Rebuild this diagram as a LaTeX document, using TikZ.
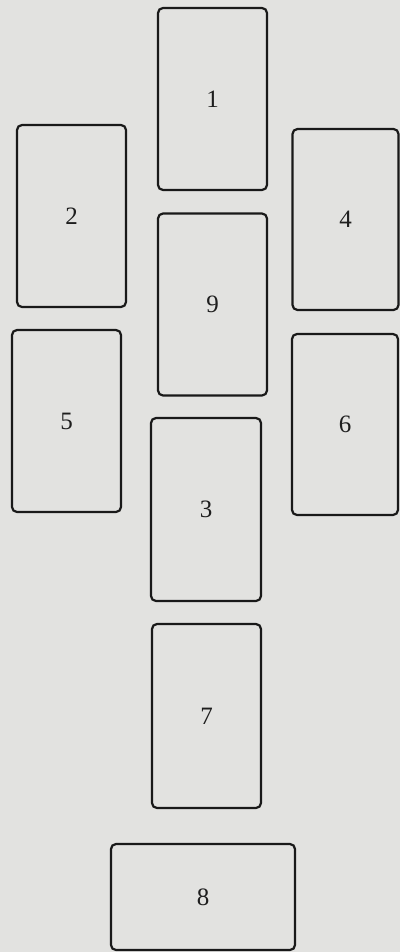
\documentclass[tikz,border=0pt]{standalone}
\usepackage{fontspec}
\setmainfont{Liberation Serif}
\usepackage{xcolor}
\usepackage{tikz}
\usetikzlibrary{positioning, backgrounds}
\definecolor{cdpaper}{RGB}{226,226,224}
\definecolor{cdline}{RGB}{25,25,25}
\definecolor{cdtext}{RGB}{30,30,30}
\tikzset{
  card/.style     = {rectangle, rounded corners=5pt, draw=cdline, line width=2.2pt,
                     text=cdtext, align=center, inner sep=0pt,
                     minimum width=109pt, minimum height=182pt,
                     font=\fontsize{25}{30}\selectfont},
  widecard/.style = {card, minimum width=184pt, minimum height=106pt},
}

\begin{document}
\begin{tikzpicture}[x=1pt, y=-1pt]

% ---------- Paper ----------
\fill[cdpaper] (0,0) rectangle (400,952);
\useasboundingbox (0,0) rectangle (400,952);

% ---------- Centre column ----------
\node[card] (one)   at (212.5, 99)   {1};
\node[card] (nine)  at (212.5, 304.5) {9};
\node[card, minimum width=110pt, minimum height=183pt] (three) at (206, 509.5) {3};
\node[card, minimum height=184pt] (seven) at (206.5, 716) {7};
\node[widecard] (eight) at (203, 897) {8};

% ---------- Left column ----------
\node[card] (two)  at (71.5, 216) {2};
\node[card] (five) at (66.5, 421) {5};

% ---------- Right column ----------
\node[card, minimum width=106pt, minimum height=181pt] (four) at (345.5, 219.5) {4};
\node[card, minimum width=106pt, minimum height=181pt] (six)  at (345, 424.5) {6};

\end{tikzpicture}
\end{document}
